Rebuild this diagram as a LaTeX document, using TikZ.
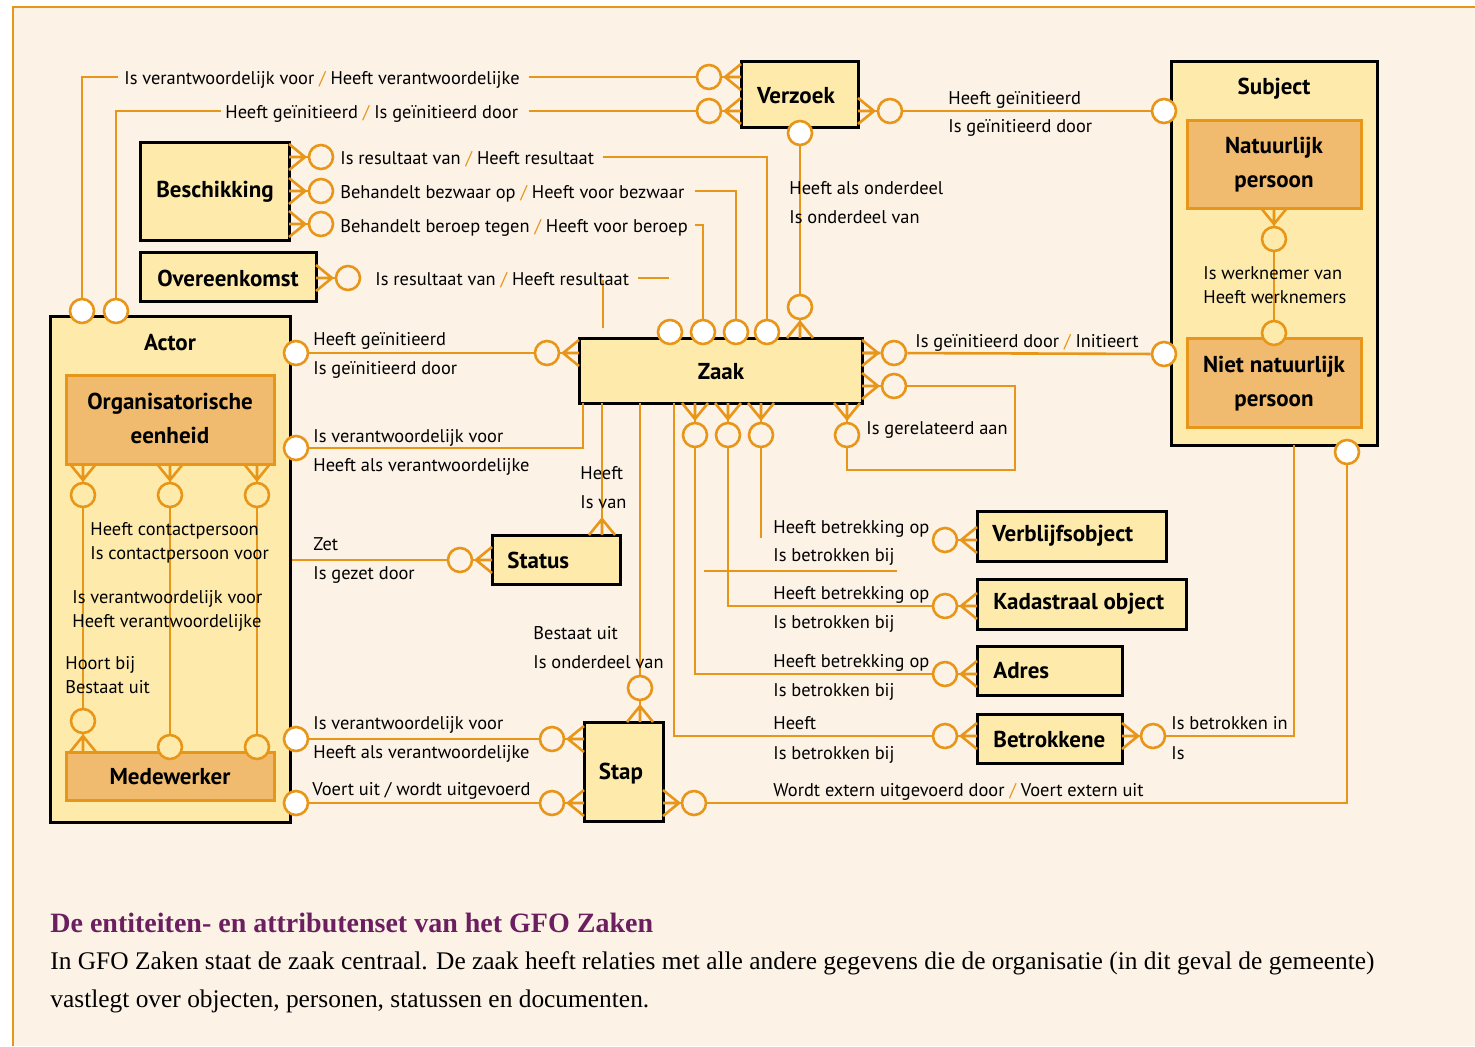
\documentclass[tikz,border=0pt]{standalone}
\usepackage{fontspec}
\setmainfont{Liberation Serif}
\newfontfamily\dsans{PT Sans}
\usetikzlibrary{fit}
\definecolor{ol}{HTML}{E8961A}
\definecolor{cream}{HTML}{FCF2E6}
\definecolor{entfill}{HTML}{FEEBAB}
\definecolor{subfill}{HTML}{F0BB6F}
\definecolor{purp}{HTML}{6B1F5F}
\newcommand\crow[4]{\draw[ln] ({#1+13*#4},{#2+13*#3}) -- ({#1+16*#3},{#2+16*#4}) -- ({#1-13*#4},{#2-13*#3}) ({#1+16*#3},{#2+16*#4}) -- (#1,#2);}
\newcommand\oslsh{{\color{ol}/}}
\begin{document}
\begin{tikzpicture}[x=0.5pt,y=-0.5pt,
  ln/.style={draw=ol,line width=1.3pt},
  ent/.style={draw=black,line width=1.5pt,fill=entfill,inner sep=0pt},
  subent/.style={draw=ol,line width=1.5pt,fill=subfill,inner sep=0pt},
  etxt/.style={inner sep=0pt,align=center,font=\dsans\bfseries\fontsize{11.5}{17}\selectfont},
  circ/.style={circle,draw=ol,line width=1.3pt,minimum size=12pt,inner sep=0pt},
  wc/.style={circ,fill=white},
  yc/.style={circ,fill=entfill},
  lab/.style={anchor=base west,inner sep=0pt,font=\dsans\fontsize{9.2}{11}\selectfont},
]
\useasboundingbox (0,0) rectangle (1475,1046);
\fill[white] (0,0) rectangle (1475,1046);
\fill[cream] (13,7) rectangle (1475,1046);
\draw[ol,line width=1.3pt] (13,1046) -- (13,7) -- (1475,7);

% ---------- entities ----------
\node[ent,fit={(741,61) (858,127)}] (verzoek) {};
\node[etxt] (verzoekT) at (796,96) {Verzoek};
\node[ent,fit={(1171,61) (1377,445)}] (subject) {};
\node[etxt] (subjectT) at (1274,89) {Subject};
\node[subent,fit={(1187,120) (1361,208)}] (natp) {};
\node[etxt] (natpT) at (1274,165) {Natuurlijk\\persoon};
\node[subent,fit={(1187,338) (1361,427)}] (nnatp) {};
\node[etxt] (nnatpT) at (1274,384) {Niet natuurlijk\\persoon};
\node[ent,fit={(140,142) (289,240)}] (besch) {};
\node[etxt] (beschT) at (215,192) {Beschikking};
\node[ent,fit={(140,252) (316,301)}] (overeen) {};
\node[etxt] (overeenT) at (228,278) {Overeenkomst};
\node[ent,fit={(50,316) (290,822)}] (actor) {};
\node[etxt] (actorT) at (170,343) {Actor};
\node[subent,fit={(66,375) (274,464)}] (orge) {};
\node[etxt] (orgeT) at (170,418) {Organisatorische\\eenheid};
\node[subent,fit={(66,752) (274,800)}] (medew) {};
\node[etxt] (medewT) at (170,777) {Medewerker};
\node[ent,fit={(579,338) (862,403)}] (zaak) {};
\node[etxt] (zaakT) at (721,372) {Zaak};
\node[ent,fit={(492,535) (620,584)}] (status) {};
\node[etxt,anchor=west] (statusT) at (507,560) {Status};
\node[ent,fit={(584,722) (663,821)}] (stap) {};
\node[etxt] (stapT) at (621,774) {Stap};
\node[ent,fit={(977,511) (1166,561)}] (verbl) {};
\node[etxt,anchor=west] (verblT) at (992,536) {Verblijfsobject};
\node[ent,fit={(977,579) (1186,629)}] (kad) {};
\node[etxt,anchor=west] (kadT) at (993,604) {Kadastraal object};
\node[ent,fit={(977,646) (1122,695)}] (adres) {};
\node[etxt,anchor=west] (adresT) at (993,671) {Adres};
\node[ent,fit={(977,714) (1122,763)}] (betr) {};
\node[etxt,anchor=west] (betrT) at (993,739) {Betrokkene};

% ---------- circles ----------
\node[wc] (aT1) at (82,311) {};
\node[wc] (aT2) at (116,311) {};
\node[circ] (vL1) at (709,77) {};
\node[circ] (vL2) at (709,111) {};
\node[wc] (vB) at (800,133) {};
\node[circ] (zT5) at (800,307) {};
\node[circ] (vR) at (890,111) {};
\node[wc] (sL1) at (1164,111) {};
\node[circ] (b1) at (321,157) {};
\node[circ] (b2) at (321,191) {};
\node[circ] (b3) at (321,224) {};
\node[circ] (oC) at (348,278) {};
\node[wc] (zT1) at (670,332) {};
\node[wc] (zT2) at (703,332) {};
\node[wc] (zT3) at (736,332) {};
\node[wc] (zT4) at (767,332) {};
\node[wc] (aR1) at (296,353) {};
\node[wc] (aR2) at (296,448) {};
\node[wc] (aR3) at (296,739) {};
\node[wc] (aR4) at (296,803) {};
\node[circ] (zL) at (547,353) {};
\node[circ] (stL) at (460,560) {};
\node[circ] (pL1) at (552,739) {};
\node[circ] (pL2) at (552,803) {};
\node[circ] (pT) at (640,688) {};
\node[circ] (pR) at (694,803) {};
\node[circ] (zR1) at (894,353) {};
\node[circ] (zR2) at (894,386) {};
\node[wc] (sL2) at (1164,354) {};
\node[circ] (zB4) at (847,435) {};
\node[circ] (zB1) at (695,435) {};
\node[circ] (zB2) at (728,435) {};
\node[circ] (zB3) at (761,435) {};
\node[circ] (voC) at (945,540) {};
\node[circ] (kaC) at (945,606) {};
\node[circ] (adC) at (945,674) {};
\node[circ] (beC) at (945,736) {};
\node[circ] (beR) at (1153,736) {};
\node[wc] (sB) at (1347,452) {};
\node[circ] (nN) at (1274,239) {};
\node[yc] (nNb) at (1274,333) {};
\node[circ] (oe1) at (83,495) {};
\node[circ] (oe2) at (170,495) {};
\node[circ] (oe3) at (257,495) {};
\node[circ] (me1) at (83,721) {};
\node[yc] (me2) at (170,747) {};
\node[yc] (me3) at (257,747) {};

% ---------- free ends ----------
\coordinate (t1a) at (118,77);  \coordinate (t1b) at (529,77);
\coordinate (t2a) at (221,111); \coordinate (t2b) at (529,111);
\coordinate (r1) at (603,157);
\coordinate (r2) at (695,191);
\coordinate (r3) at (695,225);
\coordinate (r4a) at (638,278); \coordinate (r4b) at (669,278);
\coordinate (d1a) at (603,280); \coordinate (d1b) at (603,328);
\coordinate (zb0) at (583,403);
\coordinate (zs) at (602,403);
\coordinate (zp) at (640,403);
\coordinate (zb5) at (674,403);
\coordinate (g1) at (1015,470);
\coordinate (d2) at (761,538);
\coordinate (d3a) at (704,571); \coordinate (d3b) at (897,571);
\coordinate (sb2) at (1294,445);

% ---------- connectors ----------
\draw[ln] (aT1) |- (t1a);
\draw[ln] (t1b) -- (vL1) -- (vL1 -| verzoek.west);
\draw[ln] (aT2) |- (t2a);
\draw[ln] (t2b) -- (vL2) -- (vL2 -| verzoek.west);
\draw[ln] (vB) -- (zT5);
\draw[ln] (zT5) -- (zT5 |- zaak.north);
\draw[ln] (verzoek.east |- vR) -- (vR) -- (sL1);
\draw[ln] (besch.east |- b1) -- (b1);
\draw[ln] (besch.east |- b2) -- (b2);
\draw[ln] (besch.east |- b3) -- (b3);
\draw[ln] (r1) -| (zT4);
\draw[ln] (r2) -| (zT3);
\draw[ln] (r3) -| (zT2);
\draw[ln] (overeen.east |- oC) -- (oC);
\draw[ln] (r4a) -- (r4b);
\draw[ln] (d1a) -- (d1b);
\draw[ln] (aR1) -- (zL) -- (zL -| zaak.west);
\draw[ln] (aR2) -| (zb0);
\draw[ln] (actor.east |- stL) -- (stL) -- (stL -| status.west);
\draw[ln] (zs) -- (zs |- status.north);
\draw[ln] (zp) -- (pT) -- (pT |- stap.north);
\draw[ln] (aR3) -- (pL1) -- (pL1 -| stap.west);
\draw[ln] (aR4) -- (pL2) -- (pL2 -| stap.west);
\draw[ln] (stap.east |- pR) -- (pR);
\draw[ln] (pR) -| (sB);
\draw[ln] (zaak.east |- zR1) -- (zR1) -- (sL2);
\draw[ln] (zaak.east |- zR2) -- (zR2) -| (g1) -| (zB4);
\draw[ln] (zB4) -- (zB4 |- zaak.south);
\draw[ln] (zB1) -- (zB1 |- zaak.south);
\draw[ln] (zB2) -- (zB2 |- zaak.south);
\draw[ln] (zB3) -- (zB3 |- zaak.south);
\draw[ln] (zB3) -- (d2);
\draw[ln] (d3a) -- (d3b);
\draw[ln] (zB2) |- (kaC);
\draw[ln] (zB1) |- (adC);
\draw[ln] (zb5) |- (beC);
\draw[ln] (voC) -- (voC -| verbl.west);
\draw[ln] (kaC) -- (kaC -| kad.west);
\draw[ln] (adC) -- (adC -| adres.west);
\draw[ln] (beC) -- (beC -| betr.west);
\draw[ln] (betr.east |- beR) -- (beR);
\draw[ln] (beR) -| (sb2);
\draw[ln] (nN) -- (nN |- natp.south);
\draw[ln] (nN) -- (nNb);
\draw[ln] (oe1) -- (oe1 |- orge.south);
\draw[ln] (oe2) -- (oe2 |- orge.south);
\draw[ln] (oe3) -- (oe3 |- orge.south);
\draw[ln] (oe1) -- (me1);
\draw[ln] (me1) -- (me1 |- medew.north);
\draw[ln] (oe2) -- (me2);
\draw[ln] (oe3) -- (me3);

% ---------- crow's feet ----------
\crow{741}{77}{-1}{0}
\crow{741}{111}{-1}{0}
\crow{858}{111}{1}{0}
\crow{289}{157}{1}{0}
\crow{289}{191}{1}{0}
\crow{289}{224}{1}{0}
\crow{316}{278}{1}{0}
\crow{800}{338}{0}{-1}
\crow{579}{353}{-1}{0}
\crow{862}{353}{1}{0}
\crow{862}{386}{1}{0}
\crow{695}{403}{0}{1}
\crow{728}{403}{0}{1}
\crow{761}{403}{0}{1}
\crow{847}{403}{0}{1}
\crow{492}{560}{-1}{0}
\crow{602}{535}{0}{-1}
\crow{640}{722}{0}{-1}
\crow{584}{739}{-1}{0}
\crow{584}{803}{-1}{0}
\crow{663}{803}{1}{0}
\crow{977}{540}{-1}{0}
\crow{977}{606}{-1}{0}
\crow{977}{674}{-1}{0}
\crow{977}{736}{-1}{0}
\crow{1122}{736}{1}{0}
\crow{1274}{208}{0}{1}
\crow{83}{464}{0}{1}
\crow{170}{464}{0}{1}
\crow{257}{464}{0}{1}
\crow{83}{752}{0}{-1}

% ---------- labels ----------
\node[lab] (l1) at (124,84) {Is verantwoordelijk voor \oslsh{} Heeft verantwoordelijke};
\node[lab] (l2) at (225,118) {Heeft geïnitieerd \oslsh{} Is geïnitieerd door};
\node[lab] (l3) at (340,164) {Is resultaat van \oslsh{} Heeft resultaat};
\node[lab] (l4) at (340,198) {Behandelt bezwaar op \oslsh{} Heeft voor bezwaar};
\node[lab] (l5) at (340,232) {Behandelt beroep tegen \oslsh{} Heeft voor beroep};
\node[lab] (l6) at (375,285) {Is resultaat van \oslsh{} Heeft resultaat};
\node[lab] (l7) at (789,194) {Heeft als onderdeel};
\node[lab] (l8) at (789,223) {Is onderdeel van};
\node[lab] (l9) at (948,104) {Heeft geïnitieerd};
\node[lab] (l10) at (948,132) {Is geïnitieerd door};
\node[lab] (l11) at (313,345) {Heeft geïnitieerd};
\node[lab] (l12) at (313,374) {Is geïnitieerd door};
\node[lab] (l13) at (313,442) {Is verantwoordelijk voor};
\node[lab] (l14) at (313,471) {Heeft als verantwoordelijke};
\node[lab] (l15) at (313,550) {Zet};
\node[lab] (l16) at (313,579) {Is gezet door};
\node[lab] (l17) at (580,479) {Heeft};
\node[lab] (l18) at (580,508) {Is van};
\node[lab] (l19) at (533,639) {Bestaat uit};
\node[lab] (l20) at (533,668) {Is onderdeel van};
\node[lab] (l21) at (313,729) {Is verantwoordelijk voor};
\node[lab] (l22) at (313,758) {Heeft als verantwoordelijke};
\node[lab] (l23) at (312,795) {Voert uit / wordt uitgevoerd};
\node[lab] (l24) at (773,796) {Wordt extern uitgevoerd door \oslsh{} Voert extern uit};
\node[lab] (l25) at (915,347) {Is geïnitieerd door \oslsh{} Initieert};
\node[lab] (l26) at (866,434) {Is gerelateerd aan};
\node[lab] (l27) at (773,533) {Heeft betrekking op};
\node[lab] (l28) at (773,561) {Is betrokken bij};
\node[lab] (l29) at (773,599) {Heeft betrekking op};
\node[lab] (l30) at (773,628) {Is betrokken bij};
\node[lab] (l31) at (773,667) {Heeft betrekking op};
\node[lab] (l32) at (773,696) {Is betrokken bij};
\node[lab] (l33) at (773,729) {Heeft};
\node[lab] (l34) at (773,759) {Is betrokken bij};
\node[lab] (l35) at (1171,729) {Is betrokken in};
\node[lab] (l36) at (1171,759) {Is};
\node[lab] (l37) at (1203,279) {Is werknemer van};
\node[lab] (l38) at (1203,303) {Heeft werknemers};
\node[lab] (l39) at (90,535) {Heeft contactpersoon};
\node[lab] (l40) at (90,559) {Is contactpersoon voor};
\node[lab] (l41) at (72,603) {Is verantwoordelijk voor};
\node[lab] (l42) at (72,627) {Heeft verantwoordelijke};
\node[lab] (l43) at (65,669) {Hoort bij};
\node[lab] (l44) at (65,693) {Bestaat uit};

% ---------- caption ----------
\node[anchor=base west,inner sep=0pt,text=purp,font=\bfseries\fontsize{14}{16}\selectfont] (cap1) at (50,932) {De entiteiten- en attributenset van het GFO Zaken};
\node[anchor=base west,inner sep=0pt,font=\fontsize{12.7}{15}\selectfont] (cap2) at (50,969) {In GFO Zaken staat de zaak centraal. De zaak heeft relaties met alle andere gegevens die de organisatie (in dit geval de gemeente)};
\node[anchor=base west,inner sep=0pt,font=\fontsize{12.7}{15}\selectfont] (cap3) at (50,1007) {vastlegt over objecten, personen, statussen en documenten.};
\end{tikzpicture}
\end{document}
